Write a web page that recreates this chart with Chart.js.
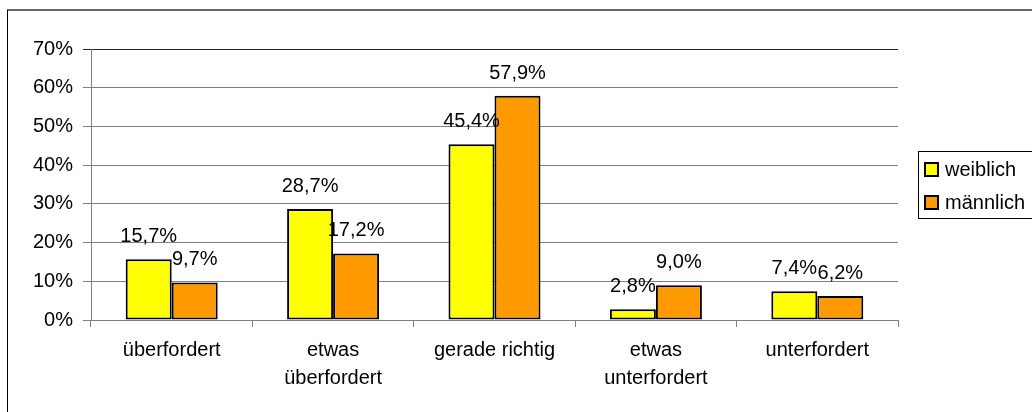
<!DOCTYPE html>
<html>
<head>
<meta charset="utf-8">
<script src="https://cdn.jsdelivr.net/npm/chart.js@4/dist/chart.umd.min.js"></script>
<style>
  body { margin: 0; background: #fff; }
  canvas { display: block; }
</style>
</head>
<body>
<canvas id="chart" width="1032" height="412"></canvas>
<script>
const categories = [
  "überfordert",
  ["etwas", "überfordert"],
  "gerade richtig",
  ["etwas", "unterfordert"],
  "unterfordert",
];
const seriesNames = ["weiblich", "männlich"];
const weiblich = [15.7, 28.7, 45.4, 2.8, 7.4];
const maennlich = [9.7, 17.2, 57.9, 9.0, 6.2];
const yTicks = [0, 10, 20, 30, 40, 50, 60, 70];

const FONT = "'Liberation Sans', Arial, sans-serif";

// frame + white background
const framePlugin = {
  id: "frame",
  beforeDraw(chart) {
    const ctx = chart.ctx;
    ctx.save();
    ctx.fillStyle = "#fff";
    ctx.fillRect(0, 0, chart.width, chart.height);
    ctx.strokeStyle = "#333";
    ctx.lineWidth = 1.5;
    ctx.beginPath();
    ctx.moveTo(7, 10);
    ctx.lineTo(chart.width, 10);
    ctx.stroke();
    ctx.strokeStyle = "#000";
    ctx.lineWidth = 1;
    ctx.beginPath();
    ctx.moveTo(7.5, 10);
    ctx.lineTo(7.5, chart.height);
    ctx.stroke();
    ctx.restore();
  },
};

// value labels above bars
const valueLabels = {
  id: "valueLabels",
  afterDatasetsDraw(chart) {
    const ctx = chart.ctx;
    ctx.save();
    ctx.font = "20px " + FONT;
    ctx.fillStyle = "#000";
    ctx.textAlign = "center";
    ctx.textBaseline = "alphabetic";
    chart.data.datasets.forEach((ds, i) => {
      chart.getDatasetMeta(i).data.forEach((bar, j) => {
        const txt = ds.data[j].toFixed(1).replace(".", ",") + "%";
        ctx.fillText(txt, bar.x, bar.y - 17);
      });
    });
    ctx.restore();
  },
};

// excel-like legend box on the right
const legendBox = {
  id: "legendBox",
  afterDraw(chart) {
    const ctx = chart.ctx;
    ctx.save();
    ctx.strokeStyle = "#000";
    ctx.lineWidth = 1;
    ctx.strokeRect(918.5, 151.5, 200, 67);
    ctx.font = "20px " + FONT;
    ctx.textBaseline = "middle";
    ctx.textAlign = "left";
    chart.data.datasets.forEach((ds, i) => {
      const cy = 169 + i * 33;
      ctx.fillStyle = ds.backgroundColor;
      ctx.fillRect(925, cy - 6, 13, 13);
      ctx.strokeStyle = "#000";
      ctx.lineWidth = 2;
      ctx.strokeRect(925, cy - 6, 13, 13);
      ctx.fillStyle = "#000";
      ctx.fillText(ds.label, 945, cy + 1);
    });
    ctx.restore();
  },
};

new Chart(document.getElementById("chart"), {
  type: "bar",
  data: {
    labels: categories,
    datasets: [
      {
        label: seriesNames[0],
        data: weiblich,
        backgroundColor: "#FFFF00",
        borderColor: "#000",
        borderWidth: 2,
        borderSkipped: false,
      },
      {
        label: seriesNames[1],
        data: maennlich,
        backgroundColor: "#FF9900",
        borderColor: "#000",
        borderWidth: 2,
        borderSkipped: false,
      },
    ],
  },
  options: {
    responsive: false,
    animation: false,
    devicePixelRatio: 1,
    layout: { padding: { top: 49, right: 134, bottom: 0, left: 0 } },
    datasets: { bar: { categoryPercentage: 0.57, barPercentage: 1.0 } },
    plugins: {
      legend: { display: false },
      tooltip: { enabled: false },
    },
    scales: {
      x: {
        offset: true,
        afterFit: (scale) => { scale.height = 92; },
        grid: {
          offset: true,
          drawOnChartArea: false,
          drawTicks: true,
          tickLength: 7,
          color: "#808080",
        },
        border: { color: "#808080", width: 1 },
        ticks: {
          color: "#000",
          padding: 10,
          maxRotation: 0,
          autoSkip: false,
          font: { family: FONT, size: 20, lineHeight: 1.37 },
        },
      },
      y: {
        min: 0,
        max: 70,
        afterFit: (scale) => { scale.width = 91; },
        afterBuildTicks: (scale) => {
          scale.ticks = yTicks.map((v) => ({ value: v }));
        },
        grid: {
          color: (c) => (c.tick && c.tick.value === 70 ? "#222" : "#808080"),
          tickLength: 8,
          drawTicks: true,
        },
        border: { color: "#808080", width: 1 },
        ticks: {
          color: "#000",
          padding: 10,
          font: { family: FONT, size: 20 },
          callback: (v) => v + "%",
        },
      },
    },
  },
  plugins: [framePlugin, valueLabels, legendBox],
});
</script>
</body>
</html>
